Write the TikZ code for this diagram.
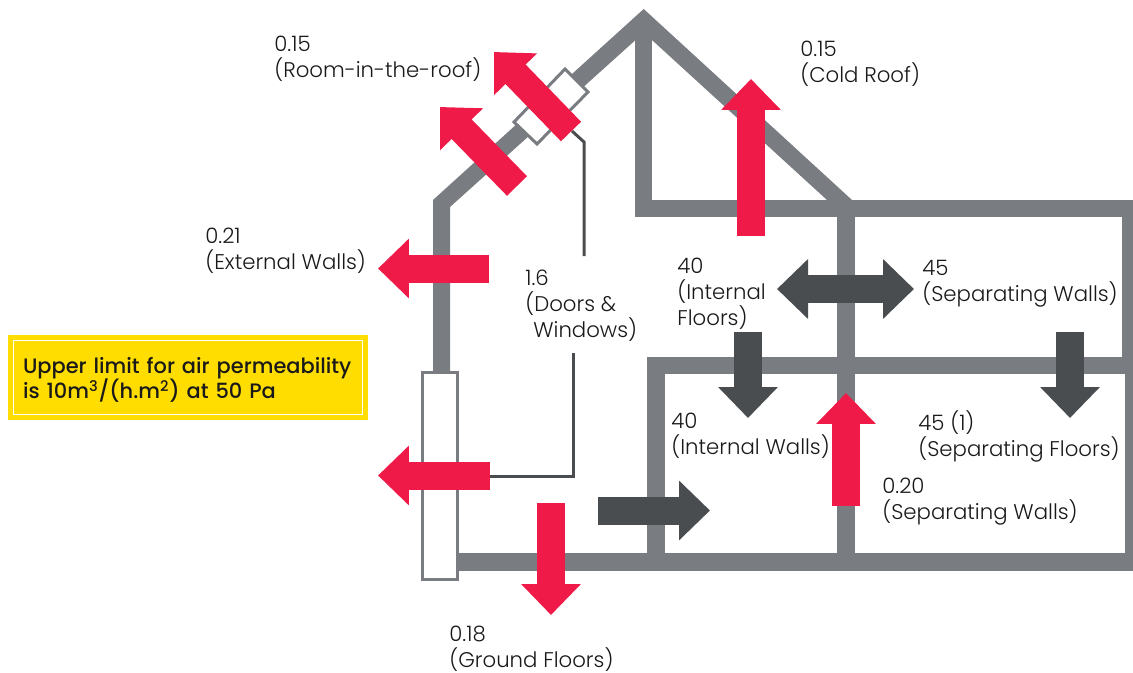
\documentclass[tikz,border=0pt]{standalone}
\usepackage{fontspec}
\setmainfont{Poppins Light}[BoldFont=Poppins Medium]
\usetikzlibrary{arrows.meta, positioning}
\definecolor{wallgrey}{HTML}{797C80}
\definecolor{lossred}{HTML}{EF1A47}
\definecolor{sounddark}{HTML}{4A4D50}
\definecolor{notegold}{HTML}{FFDD00}
\tikzset{
  wall/.style={draw=wallgrey, line width=0.35cm},
  flow/.style={line width=0.56cm, -{Triangle[length=0.62cm, width=1.16cm]}},
  bothflow/.style={line width=0.56cm, {Triangle[length=0.62cm, width=1.16cm]}-{Triangle[length=0.62cm, width=1.16cm]}},
  glazing/.style={draw=wallgrey, fill=white, line width=0.06cm},
  leader/.style={draw=sounddark, line width=0.06cm},
  label/.style={anchor=base west, align=left, inner sep=0pt, text=black!90, font=\fontsize{12.1}{14.7}\selectfont},
}
\begin{document}
\begin{tikzpicture}[x=0.02cm, y=-0.02cm]
  \useasboundingbox (0,0) rectangle (1133,673);

  % Roof and house walls
  \fill[wallgrey] (433,371) -- (433,200) -- (643.7,9) -- (852,200) -- (827,200)
    -- (652.5,40.5) -- (635,40.5) -- (450,207) -- (450,371) -- cycle;
  \draw[wall] (643.7,30) -- (643.7,217);
  \draw[wall] (635,208.5) -- (1133,208.5);
  \draw[wall] (846,200) -- (846,571);
  \fill[wallgrey] (1122,200) rectangle (1133,360);
  \fill[wallgrey] (1125,360) rectangle (1133,571);
  \draw[wall] (647,365.5) -- (1133,365.5);
  \draw[wall] (656,357) -- (656,571);
  \draw[wall] (459,562) -- (1133,562);

  % Window in the wall and window in the roof
  \draw[glazing] (422.5,372.5) rectangle (457.5,579.5);
  \draw[glazing] (565,69) -- (588,92) -- (537,144) -- (514,122) -- cycle;

  % Leaders to the doors and windows label
  \coordinate (roofend) at (572,131);
  \coordinate (roofbend) at (584,142);
  \coordinate (roofstop) at (584,256);
  \coordinate (wallstop) at (573,353);
  \coordinate (wallbend) at (573,476);
  \coordinate (wallend) at (490,476);
  \draw[leader] (roofend) -- (roofbend) -- (roofstop);
  \draw[leader] (wallstop) -- (wallbend) -- (wallend);

  % Heat loss arrows
  \draw[flow, lossred] (571,131.5) -- (494,52);
  \draw[flow, lossred] (517,186) -- (440,107);
  \draw[flow, lossred] (751,236) -- (751,79);
  \draw[flow, lossred] (489,268.5) -- (378,268.5);
  \draw[flow, lossred] (490,475.5) -- (378,475.5);
  \draw[flow, lossred] (551,503) -- (551,615);
  \draw[flow, lossred] (846,506) -- (846,393);

  % Sound arrows
  \draw[bothflow, sounddark] (777,289) -- (914,289);
  \draw[flow, sounddark] (748,332) -- (748,418);
  \draw[flow, sounddark] (1070,332) -- (1070,418);
  \draw[flow, sounddark] (598,510.5) -- (710,510.5);

  % Labels
  \node[label] (roomroof) at (274,77) {0.15\\(Room-in-the-roof)};
  \node[label] (coldroof) at (800,82) {0.15\\(Cold Roof)};
  \node[label] (extwalls) at (205,269) {0.21\\(External Walls)};
  \node[label] (doors) at (525,337) {1.6\\(Doors \&\\\hspace*{0.16cm}Windows)};
  \node[label] (intfloors) at (677,325) {40\\(Internal\\Floors)};
  \node[label] (sepwalls) at (922,301) {45\\(Separating Walls)};
  \node[label] (intwalls) at (671,454) {40\\(Internal Walls)};
  \node[label] (sepfloors) at (918,456) {45 (1)\\(Separating Floors)};
  \node[label] (sepwallslow) at (882,519) {0.20\\(Separating Walls)};
  \node[label] (groundfl) at (449,667.5) {0.18\\(Ground Floors)};

  \node[draw=white, fill=notegold, line width=0.03cm,
    preaction={draw=notegold, line width=0.22cm},
    minimum width=6.98cm, minimum height=1.48cm, inner xsep=0.19cm, inner ysep=0pt,
    text width=6.6cm, align=left, text=black!90,
    font=\fontsize{11.9}{14.7}\selectfont\bfseries] (limitnote) at (188,377.5)
    {\rule{0pt}{0.42cm}Upper limit for air permeability\\is 10m\textsuperscript{3}/(h.m\textsuperscript{2}) at 50 Pa};
\end{tikzpicture}
\end{document}
